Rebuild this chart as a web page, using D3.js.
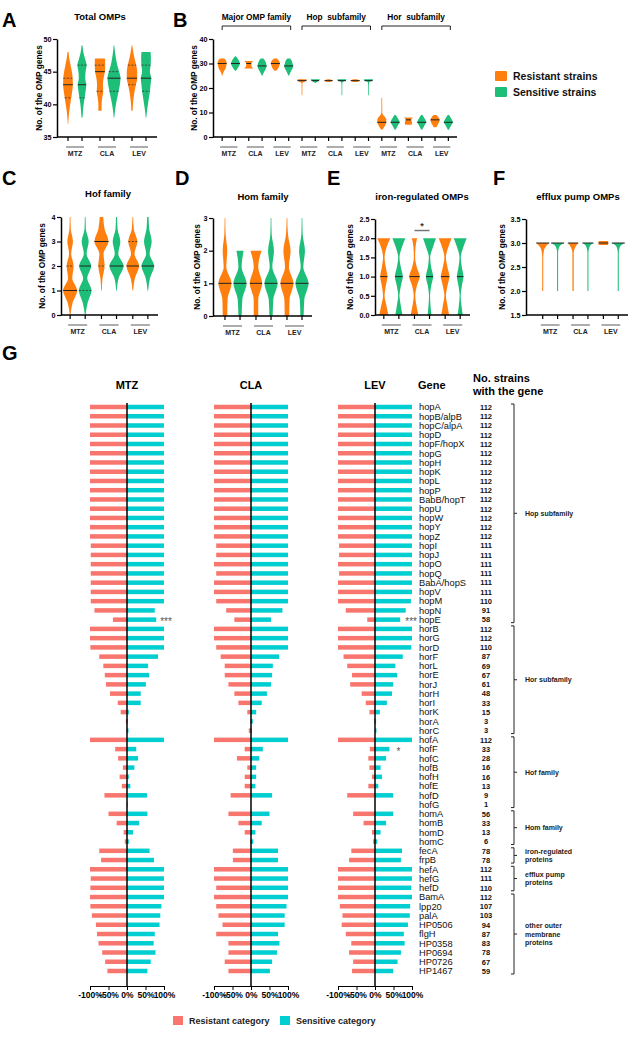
<!DOCTYPE html>
<html>
<head>
<meta charset="utf-8">
<script src="https://d3js.org/d3.v7.min.js"></script>
<style>
  body { margin: 0; background: #fff; }
  svg text { font-family: Arial, "Liberation Sans", sans-serif; }
</style>
</head>
<body>
<script>
// ---------- data ----------
const antibiotics = ["MTZ", "CLA", "LEV"];
const strainTypes = ["R", "S"];

// violin profiles: [value, relative half width], order MTZ-R, MTZ-S, CLA-R, CLA-S, LEV-R, LEV-S
const totalProfiles = [
  [[37,0.03],[38,0.1],[39,0.2],[40,0.35],[41,0.5],[42,0.65],[43,0.75],[44,0.72],[45,0.6],[46,0.4],[47,0.2],[48,0.08]],
  [[38,0.08],[39,0.15],[40,0.25],[41,0.4],[42,0.55],[43,0.65],[44,0.5],[45,0.55],[46,0.7],[47,0.45],[48,0.2],[49,0.08]],
  [[39,0.25],[40,0.25],[41,0.35],[42,0.5],[43,0.45],[44,0.55],[45,0.75],[46,0.8],[47,0.78]],
  [[38,0.05],[39,0.15],[40,0.3],[41,0.5],[42,0.7],[43,0.9],[44,1.0],[45,0.8],[46,0.5],[47,0.3],[48,0.15],[49,0.05]],
  [[39,0.1],[40,0.15],[41,0.25],[42,0.4],[43,0.6],[44,0.8],[45,0.8],[46,0.65],[47,0.4],[48,0.2],[49,0.05]],
  [[38,0.05],[39,0.15],[40,0.3],[41,0.45],[42,0.6],[43,0.7],[44,0.8],[45,0.6],[46,0.7],[47,0.75],[48,0.7]]
];
const totalMedians = [43, 43, 45, 44, 44, 44];
const totalQ1 = [41, 41, 42, 42, 43, 42];
const totalQ3 = [44, 46, 46, 45, 46, 46];

const familyNames = ["Major OMP family", "Hop  subfamily", "Hor  subfamily"];
const familyProfiles = [
  [[25,0.05],[26,0.2],[27,0.45],[28,0.75],[29,0.9],[30,1.0],[31,0.9],[32,0.5]],
  [[27,0.1],[28,0.45],[29,0.8],[30,1.0],[31,0.8],[32,0.5],[33,0.1]],
  [[28,1.0],[29,0.6],[30,0.55],[31,1.0]],
  [[25,0.05],[26,0.3],[27,0.6],[28,0.85],[29,1.0],[30,0.9],[31,0.7],[32,0.3]],
  [[27,0.15],[28,0.6],[29,0.85],[30,1.0],[31,0.85],[32,0.3]],
  [[25,0.05],[26,0.3],[27,0.55],[28,0.85],[29,1.0],[30,0.85],[31,0.7],[32,0.3]],
  [[17,0.08],[20,0.08],[22,0.1],[22.5,0.4],[23,1.0],[23.6,1.0]],
  [[22,0.05],[22.5,0.35],[23,0.85],[23.6,1.0]],
  [[22.4,0.2],[23,0.9],[23.6,0.2]],
  [[17,0.08],[21,0.08],[22.5,0.15],[23,0.9],[23.6,1.0]],
  [[22.4,0.3],[23,1.0],[23.6,0.3]],
  [[17,0.08],[21,0.08],[22.5,0.15],[23,0.9],[23.6,1.0]],
  [[3,0.1],[4,0.5],[5,0.8],[6,1.0],[7,1.0],[8,0.8],[9,0.3],[10,0.1],[16,0.08]],
  [[3,0.1],[4,0.4],[5,0.7],[6,1.0],[7,0.8],[8,0.5],[9,0.15]],
  [[5,0.7],[6,0.8],[7,0.6],[8,1.0]],
  [[3,0.1],[4,0.4],[5,0.7],[6,1.0],[7,0.8],[8,0.5],[9,0.15]],
  [[4,0.3],[5,0.6],[6,0.9],[7,1.0],[8,0.8],[9,0.3]],
  [[3,0.1],[4,0.4],[5,0.7],[6,1.0],[7,0.8],[8,0.5],[9,0.15]]
];
const familyMedians = [30,30,30,29,30,29, 23,23,23,23,23,23, 6,6,7,6,7,6];

const hofProfiles = [
  [[0,0.05],[0.5,0.35],[1,1.0],[1.5,0.3],[2,0.5],[2.5,0.15],[3,0.4],[3.5,0.1],[4,0.05]],
  [[0,0.05],[0.5,0.35],[1,0.9],[1.5,0.3],[2,0.85],[2.5,0.2],[3,0.5],[3.5,0.1],[4,0.05]],
  [[1,0.05],[1.5,0.15],[2,0.45],[2.5,0.3],[3,1.0],[3.5,0.45],[4,0.25]],
  [[1,0.05],[1.5,0.3],[2,1.0],[2.5,0.25],[3,0.55],[3.5,0.15],[4,0.08]],
  [[1,0.05],[1.5,0.3],[2,0.9],[2.5,0.25],[3,0.65],[3.5,0.15],[4,0.05]],
  [[1,0.05],[1.5,0.3],[2,0.9],[2.5,0.25],[3,0.55],[3.5,0.2],[4,0.1]]
];
const hofMedians = [1, 2, 3, 2, 2, 2];
const hofQ1 = [1, 1, 2, 2, 2, 2];
const hofQ3 = [2, 2, 3, 2, 3, 2];

const homProfiles = [
  [[0,0.35],[0.5,0.4],[1,1.0],[1.5,0.2],[2,0.35],[2.5,0.1],[3,0.05]],
  [[0,0.25],[0.5,0.35],[1,1.0],[1.5,0.25],[2,0.55]],
  [[0,0.35],[0.5,0.35],[1,0.95],[1.5,0.35],[2,0.85]],
  [[0,0.25],[0.5,0.35],[1,1.0],[1.5,0.2],[2,0.45],[2.5,0.1],[3,0.05]],
  [[0,0.35],[0.5,0.4],[1,1.0],[1.5,0.3],[2,0.55],[2.5,0.15],[3,0.05]],
  [[0,0.25],[0.5,0.35],[1,1.0],[1.5,0.2],[2,0.45],[2.5,0.1],[3,0.05]]
];
const homMedians = [1, 1, 1, 1, 1, 1];

const ironProfiles = [
  [[0,0.7],[0.25,0.4],[0.5,0.12],[0.75,0.3],[1,0.55],[1.25,0.3],[1.5,0.12],[1.75,0.4],[2,1.0]],
  [[0,0.55],[0.25,0.3],[0.5,0.1],[0.75,0.3],[1,0.6],[1.25,0.3],[1.5,0.1],[1.75,0.45],[2,1.0]],
  [[0,0.6],[0.25,0.3],[0.5,0.12],[0.75,0.35],[1,0.8],[1.25,0.35],[1.5,0.1],[1.75,0.15],[2,0.4]],
  [[0,0.3],[0.25,0.15],[0.5,0.08],[0.75,0.25],[1,0.55],[1.25,0.25],[1.5,0.1],[1.75,0.5],[2,1.0]],
  [[0,0.6],[0.25,0.35],[0.5,0.12],[0.75,0.35],[1,0.65],[1.25,0.35],[1.5,0.12],[1.75,0.45],[2,1.0]],
  [[0,0.4],[0.25,0.2],[0.5,0.08],[0.75,0.25],[1,0.5],[1.25,0.25],[1.5,0.1],[1.75,0.45],[2,1.0]]
];
const ironMedians = [1, 1, 1, 1, 1, 1];

const effluxProfiles = [
  [[2,0.08],[2.7,0.08],[2.85,0.2],[2.95,0.6],[3,1.0]],
  [[2,0.08],[2.8,0.08],[2.9,0.2],[2.97,0.6],[3,1.0]],
  [[2,0.1],[2.8,0.1],[2.9,0.3],[2.97,0.6],[3,0.8]],
  [[2,0.08],[2.8,0.08],[2.9,0.2],[2.97,0.5],[3,0.85]],
  [[2.96,0.7],[3,0.75],[3.04,0.7]],
  [[2,0.08],[2.8,0.08],[2.9,0.2],[2.97,0.6],[3,1.0]]
];
const effluxMedians = [3, 3, 3, 3, 3, 3];

// panel G
const genes = ["hopA","hopB/alpB","hopC/alpA","hopD","hopF/hopX","hopG","hopH","hopK","hopL","hopP","BabB/hopT","hopU","hopW","hopY","hopZ","hopI","hopJ","hopO","hopQ","BabA/hopS","hopV","hopM","hopN","hopE",
  "horB","horG","horD","horF","horL","horE","horJ","horH","horI","horK","horA","horC",
  "hofA","hofF","hofC","hofB","hofH","hofE","hofD","hofG",
  "homA","homB","homD","homC","fecA","frpB","hefA","hefG","hefD",
  "BamA","lpp20","palA","HP0506","flgH","HP0358","HP0694","HP0726","HP1467"];
const strainCounts = [112,112,112,112,112,112,112,112,112,112,112,112,112,112,112,111,111,111,111,111,111,110,91,58,
  112,112,110,87,69,67,61,48,33,15,3,3,
  112,33,28,16,16,13,9,1,
  56,33,13,6,78,78,112,111,110,
  112,107,103,94,87,83,78,67,59];
const mtzRes = [100,100,100,100,100,100,100,100,100,100,100,100,100,100,100,98,98,98,98,98,98,98,88,38,
  100,100,99,75,64,60,57,46,25,17,3,1, 100,32,24,11,20,14,61,0, 50,28,9,6, 75,70, 100,98,99,
  100,99,95,84,81,77,67,59,53];
const mtzSen = [100,100,100,100,100,100,100,100,100,100,100,100,100,100,100,100,100,100,100,100,100,100,75,79,
  100,100,100,84,57,60,51,37,37,5,2,4, 100,25,30,20,5,9,54,2, 55,33,16,5, 61,73, 100,100,100,
  100,93,90,88,75,72,77,64,55];
const claRes = [100,100,100,100,100,100,100,100,100,100,100,100,100,100,100,94,94,100,94,100,100,94,67,45,
  100,100,94,82,71,71,61,45,34,10,2,6, 100,17,38,10,17,17,55,0, 61,34,17,2, 49,49, 100,100,94,
  100,94,88,77,94,61,61,71,61];
const claSen = [100,100,100,100,100,100,100,100,100,100,100,100,100,100,100,100,100,100,100,100,100,100,85,54,
  100,100,100,76,59,57,54,43,29,14,5,2, 100,32,22,14,14,12,57,0, 50,29,12,6, 73,73, 100,100,100,
  100,96,91,91,73,77,70,57,51];
const levRes = [100,100,100,100,100,100,100,100,100,100,100,100,100,100,100,97,97,100,97,100,100,100,79,21,
  100,100,100,85,75,62,67,36,25,15,2,0, 100,14,18,15,8,18,75,0, 59,31,8,5, 64,70, 100,100,100,
  100,95,88,90,79,64,70,59,62];
const levSen = [100,100,100,100,100,100,100,100,100,100,100,100,100,100,100,100,100,100,100,100,100,97,83,68,
  100,100,98,75,55,60,49,46,32,13,3,4, 100,39,30,15,19,9,49,0, 49,30,15,6, 73,70, 100,100,98,
  100,95,94,89,78,80,70,61,49];
const geneGroupLabels = [["Hop subfamily"], ["Hor subfamily"], ["Hof family"], ["Hom family"],
  ["iron-regulated", "proteins"], ["efflux pump", "proteins"], ["other outer", "membrane", "proteins"]];
const geneGroupFirst = ["hopA", "horB", "hofA", "homA", "fecA", "hefA", "BamA"];
const geneGroupLast = ["hopE", "horC", "hofG", "homC", "frpB", "hefD", "HP1467"];
const pctTicks = [-100, -50, 0, 50, 100];

// ---------- style ----------
const orange = "#FF7F0E";
const green = "#1DBE78";
const pink = "#F8766D";
const cyan = "#00CED1";

const svg = d3.select("body").append("svg").attr("width", 641).attr("height", 1038);

function text(x, y, s, size, weight, anchor, fill) {
  return svg.append("text").attr("x", x).attr("y", y).text(s)
    .attr("font-size", size).attr("font-weight", weight || "normal")
    .attr("text-anchor", anchor || "start").attr("fill", fill || "#000");
}

function widthAt(prof, v) {
  for (let i = 0; i < prof.length - 1; i++) {
    const a = prof[i], b = prof[i + 1];
    if (v >= a[0] && v <= b[0]) return a[1] + (b[1] - a[1]) * (v - a[0]) / (b[0] - a[0]);
  }
  return prof.find(d => d[0] === v) ? prof.find(d => d[0] === v)[1] : 0;
}

function violinPanel(p, profiles, medians, q1, q3) {
  const g = svg.append("g");
  const y = d3.scaleLinear().domain(p.domain).range([p.bottom, p.top]);
  const gx = d3.scaleBand().domain(d3.range(p.nGroups)).range(p.xRange);
  const inner = d3.scalePoint().domain(strainTypes).range([0, gx.bandwidth()]).padding(p.innerPad);
  const w = d3.scaleLinear().domain([0, 1]).range([0, p.maxW]);

  const centers = [];
  d3.range(p.nGroups).forEach(i => strainTypes.forEach(s => centers.push({ cx: gx(i) + inner(s), s: s, grp: i })));

  centers.forEach((c, k) => {
    const prof = profiles[k];
    const area = d3.area().curve(d3.curveMonotoneY)
      .y(d => y(d[0])).x0(d => c.cx - w(d[1])).x1(d => c.cx + w(d[1]));
    g.append("path").attr("d", area(prof)).attr("fill", c.s === "R" ? orange : green);
    const hw = w(widthAt(prof, medians[k]));
    g.append("line").attr("x1", c.cx - hw).attr("x2", c.cx + hw)
      .attr("y1", y(medians[k])).attr("y2", y(medians[k])).attr("stroke", "#222").attr("stroke-width", 1);
    if (q1) {
      [q1[k], q3[k]].forEach(q => {
        if (q === medians[k]) return;
        const qw = w(widthAt(prof, q));
        g.append("line").attr("x1", c.cx - qw).attr("x2", c.cx + qw)
          .attr("y1", y(q)).attr("y2", y(q)).attr("stroke", "#333")
          .attr("stroke-width", 0.8).attr("stroke-dasharray", "2,1.5");
      });
    }
  });

  // y axis
  const ax = g.append("g").attr("transform", `translate(${p.axisX},0)`)
    .call(d3.axisLeft(y).tickValues(p.ticks).tickFormat(p.fmt).tickSize(4).tickSizeOuter(0).tickPadding(1.5));
  ax.select(".domain").attr("stroke-width", 1.5);
  ax.selectAll(".tick line").attr("stroke-width", 1.2);
  ax.selectAll("text").attr("font-size", 7.2).attr("font-weight", "bold").attr("font-family", "Arial, 'Liberation Sans', sans-serif");

  // x axis
  g.append("line").attr("x1", p.axisX).attr("x2", p.xRange[1] + 2)
    .attr("y1", p.bottom).attr("y2", p.bottom).attr("stroke", "#000").attr("stroke-width", 1.5);
  centers.forEach(c => {
    g.append("line").attr("x1", c.cx).attr("x2", c.cx).attr("y1", p.bottom).attr("y2", p.bottom + 4)
      .attr("stroke", "#000").attr("stroke-width", 1.2);
  });
  d3.range(p.nGroups).forEach(i => {
    const xa = gx(i) + inner("R") - 2, xb = gx(i) + inner("S") + 2;
    g.append("line").attr("x1", xa).attr("x2", xb).attr("y1", p.bottom + 10).attr("y2", p.bottom + 10)
      .attr("stroke", "#777").attr("stroke-width", 1.2);
    text((xa + xb) / 2, p.bottom + 19, antibiotics[i % 3], 7, "bold", "middle", "#222");
  });

  // labels
  svg.append("text").attr("transform", `translate(${p.labelX},${(p.top + p.bottom) / 2}) rotate(-90)`)
    .attr("text-anchor", "middle").attr("font-size", 8.3).attr("font-weight", "bold").text("No. of the OMP genes");
  if (p.title) text(p.titleX, p.titleY, p.title, 9.5, "bold", "middle");
  text(p.letterX, p.letterY, p.letter, 20, "bold");
  return { y, centers };
}

// ---------- panels A-F ----------
violinPanel({ letter: "A", letterX: 2, letterY: 27, title: "Total OMPs", titleX: 100, titleY: 20,
  axisX: 57, top: 39, bottom: 137, domain: [35, 50], ticks: [35, 40, 45, 50], fmt: d3.format("d"),
  nGroups: 3, xRange: [59, 155], innerPad: 0.64, maxW: 6.5, labelX: 42 },
  totalProfiles, totalMedians, totalQ1, totalQ3);

const pB = violinPanel({ letter: "B", letterX: 173, letterY: 27, title: null,
  axisX: 213, top: 39, bottom: 137, domain: [0, 40], ticks: [0, 10, 20, 30, 40], fmt: d3.format("d"),
  nGroups: 9, xRange: [215.5, 455], innerPad: 0.5, maxW: 4.5, labelX: 197 },
  familyProfiles, familyMedians, null, null);
familyNames.forEach((name, i) => {
  const xa = pB.centers[i * 6].cx, xb = pB.centers[i * 6 + 5].cx + 2;
  svg.append("path").attr("d", `M${xa},30V26H${xb}V30`).attr("fill", "none").attr("stroke", "#222").attr("stroke-width", 1);
  svg.append("text").attr("x", (xa + xb) / 2).attr("y", 20).attr("text-anchor", "middle")
    .attr("font-size", 8.3).attr("font-weight", "bold").attr("xml:space", "preserve").text(name);
});

// legend top
[[orange, "Resistant strains", 71], [green, "Sensitive strains", 87]].forEach(l => {
  svg.append("rect").attr("x", 495).attr("y", l[2]).attr("width", 12).attr("height", 10).attr("rx", 1).attr("fill", l[0]);
  text(513, l[2] + 9, l[1], 10.5, "bold", "start", "#111");
});

violinPanel({ letter: "C", letterX: 2, letterY: 185, title: "Hof family", titleX: 108, titleY: 197,
  axisX: 61, top: 217, bottom: 315, domain: [0, 4], ticks: [0, 1, 2, 3, 4], fmt: d3.format("d"),
  nGroups: 3, xRange: [62, 156], innerPad: 0.54, maxW: 7, labelX: 45 },
  hofProfiles, hofMedians, hofQ1, hofQ3);

violinPanel({ letter: "D", letterX: 175, letterY: 185, title: "Hom family", titleX: 263, titleY: 200,
  axisX: 213, top: 218, bottom: 316, domain: [0, 3], ticks: [0, 1, 2, 3], fmt: d3.format("d"),
  nGroups: 3, xRange: [217, 310], innerPad: 0.53, maxW: 6.5, labelX: 200 },
  homProfiles, homMedians, null, null);

const pE = violinPanel({ letter: "E", letterX: 327, letterY: 185, title: "iron-regulated OMPs", titleX: 422, titleY: 200,
  axisX: 375, top: 219, bottom: 315, domain: [0, 2.5], ticks: [0, 0.5, 1, 1.5, 2, 2.5], fmt: d3.format(".1f"),
  nGroups: 3, xRange: [376, 468], innerPad: 0.52, maxW: 6.5, labelX: 353 },
  ironProfiles, ironMedians, null, null);
svg.append("line").attr("x1", pE.centers[2].cx).attr("x2", pE.centers[3].cx)
  .attr("y1", pE.y(2.2)).attr("y2", pE.y(2.2)).attr("stroke", "#777").attr("stroke-width", 1.5);
text((pE.centers[2].cx + pE.centers[3].cx) / 2, pE.y(2.2) - 2, "*", 9, "bold", "middle", "#333");

violinPanel({ letter: "F", letterX: 493, letterY: 185, title: "efflux pump OMPs", titleX: 578, titleY: 200,
  axisX: 526, top: 219, bottom: 315, domain: [1.5, 3.5], ticks: [1.5, 2, 2.5, 3, 3.5], fmt: d3.format(".1f"),
  nGroups: 3, xRange: [535, 626], innerPad: 0.52, maxW: 6.5, labelX: 505 },
  effluxProfiles, effluxMedians, null, null);

// ---------- panel G ----------
text(2, 360, "G", 20, "bold");
const yG = d3.scalePoint().domain(genes).range([407, 971]);
const barH = 4.5;
const axisY = 986;
const gPanels = [
  { name: "MTZ", res: mtzRes, sen: mtzSen, range: [90, 164] },
  { name: "CLA", res: claRes, sen: claSen, range: [214, 288] },
  { name: "LEV", res: levRes, sen: levSen, range: [338, 412] }
];
gPanels.forEach(p => {
  const x = d3.scaleLinear().domain([-100, 100]).range(p.range);
  const g = svg.append("g");
  g.selectAll("rect.r").data(genes).join("rect")
    .attr("x", (d, i) => x(-p.res[i])).attr("width", (d, i) => x(0) - x(-p.res[i]))
    .attr("y", d => yG(d) - barH / 2).attr("height", barH).attr("fill", pink);
  g.selectAll("rect.s").data(genes).join("rect")
    .attr("x", x(0)).attr("width", (d, i) => x(p.sen[i]) - x(0))
    .attr("y", d => yG(d) - barH / 2).attr("height", barH).attr("fill", cyan);
  g.append("line").attr("x1", x(0)).attr("x2", x(0)).attr("y1", 403).attr("y2", axisY)
    .attr("stroke", "#000").attr("stroke-width", 1.5);
  const ax = g.append("g").attr("transform", `translate(0,${axisY})`)
    .call(d3.axisBottom(x).tickValues(pctTicks).tickFormat(d => d + "%").tickSize(4).tickSizeOuter(0).tickPadding(2));
  ax.select(".domain").attr("stroke-width", 1.2);
  ax.selectAll("text").attr("font-size", 8.5).attr("font-weight", "bold").attr("font-family", "Arial, 'Liberation Sans', sans-serif");
  text(x(0), 389, p.name, 11, "bold", "middle");
  p.x = x;
});

// significance marks
text(gPanels[0].x(mtzSen[23]) + 4, yG("hopE") + 5, "***", 10, "normal", "start", "#555");
text(417, yG("hopE") + 5, "***", 10, "normal", "end", "#555");
text(gPanels[2].x(levSen[37]) + 9, yG("hofF") + 6, "*", 10, "normal", "middle", "#555");

// gene names and counts
text(418, 389, "Gene", 11, "bold");
text(473, 382, "No. strains", 11, "bold");
text(473, 395, "with the gene", 11, "bold");
genes.forEach((gname, i) => {
  text(419, yG(gname) + 3.3, gname, 9.3, "normal", "start", "#111");
  text(486, yG(gname) + 2.8, strainCounts[i], 7.5, "bold", "middle", "#111");
});

// group brackets
geneGroupLabels.forEach((lines, i) => {
  const t = yG(geneGroupFirst[i]) - 3, b = yG(geneGroupLast[i]) + 3, m = (t + b) / 2;
  svg.append("path").attr("d", `M511,${t}H514V${b}H511M514,${m}H517`)
    .attr("fill", "none").attr("stroke", "#222").attr("stroke-width", 1);
  lines.forEach((ln, j) => {
    text(525, m + 2.5 + (j - (lines.length - 1) / 2) * 8.5, ln, 7, "bold", "start", "#222");
  });
});

// bottom legend
[[pink, "Resistant category", 173], [cyan, "Sensitive category", 280]].forEach(l => {
  svg.append("rect").attr("x", l[2]).attr("y", 1016).attr("width", 10).attr("height", 9).attr("fill", l[0]);
  text(l[2] + 16, 1024, l[1], 9, "bold", "start", "#222");
});
</script>
</body>
</html>
